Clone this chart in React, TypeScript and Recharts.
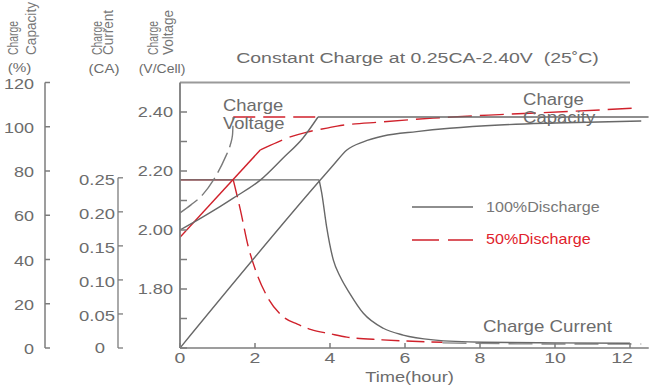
import React from 'react';
import { ComposedChart, Line, XAxis, YAxis, ReferenceLine } from 'recharts';

// ---------- layout / style constants ----------
const W = 651;
const H = 392;
const MARGIN = { top: 82.5, right: 2.25, bottom: 14, left: 0 };
const XAXIS_H = 30;
const PLOT_BOTTOM = H - MARGIN.bottom - XAXIS_H;
const CAP_W = 45;
const CUR_W = 73;
const VOLT_W = 62;
const CAP_GAP = 11;
const CUR_GAP = 3;
const VOLT_GAP = 7;

// axis ids (ordered: first id sits next to the plot)
const VOLT_ID = 'a-volt';
const CUR_ID = 'b-current';
const CAP_ID = 'c-capacity';

const FONT = '"Liberation Sans", Arial, Helvetica, sans-serif';
const GRAY = '#686868';
const RED = '#d0212b';
const AXIS = '#7c7c7c';
const LABEL = '#6c6c6c';
const LW = 1.4;

// ---------- axis values ----------
const timeTicks = [0, 2, 4, 6, 8, 10, 12];
const capacityTicks = [0, 20, 40, 60, 80, 100, 120];
const currentTicks = [0, 0.05, 0.1, 0.15, 0.2, 0.25];
const voltageTicks = [1.6, 1.7, 1.8, 1.9, 2.0, 2.1, 2.2, 2.3, 2.4];
const voltageLabels = [1.8, 2.0, 2.2, 2.4];

const timeDomain = [0, 12.5];
const capacityDomain = [0, 120];
const currentDomain = [0, 0.39];
const voltageDomain = [1.6, 2.5];
const frameTop = 2.5;
const frameEnd = 12;

// ---------- series (time in hours) ----------
// 100% discharge - charge voltage (V/cell)
const volt100RiseT = [0, 0.5, 1.0, 1.42, 2.14, 2.75, 3.28, 3.68];
const volt100RiseV = [2.0, 2.036, 2.074, 2.108, 2.169, 2.244, 2.312, 2.383];
const volt100HoldT = [3.68, 12.5];
const volt100HoldV = [2.383, 2.383];

// 50% discharge - charge voltage
const volt50RiseT = [0, 0.3, 0.6, 0.89, 1.21, 1.34, 1.4, 1.42];
const volt50RiseV = [2.058, 2.086, 2.119, 2.169, 2.247, 2.288, 2.322, 2.383];
const volt50HoldT = [1.42, 3.68];
const volt50HoldV = [2.383, 2.383];

// 100% discharge - charge capacity (%)
const cap100T = [0, 3.74, 4.09, 4.45, 4.89, 5.42, 6.31, 7.19, 8.52, 10.0, 12.3];
const cap100V = [0, 75.9, 82.7, 89.5, 93.2, 95.8, 97.8, 99.3, 100.8, 101.7, 102.6];

// 50% discharge - charge capacity (%)
const cap50LinT = [0, 2.14];
const cap50LinV = [50, 89.5];
const cap50CurveT = [2.14, 2.33, 2.94, 3.39, 3.92, 4.19, 5.42, 6.75, 8.52, 10.5, 12.2];
const cap50CurveV = [89.5, 91.0, 95.4, 97.6, 99.4, 100.3, 102.2, 103.9, 105.5, 107.0, 108.5];

// 100% discharge - charge current (CA)
const cur100HoldT = [0, 3.71];
const cur100HoldV = [0.247, 0.247];
const cur100DecayT = [3.71, 3.78, 3.91, 4.09, 4.27, 4.53, 4.89, 5.42, 5.95, 6.75, 8.08, 10.0, 12.0];
const cur100DecayV = [0.247, 0.2275, 0.178, 0.129, 0.105, 0.08, 0.051, 0.029, 0.019, 0.012, 0.0084, 0.0075, 0.007];

// 50% discharge - charge current (CA)
const cur50HoldT = [0, 1.42];
const cur50HoldV = [0.247, 0.247];
const cur50DecayT = [1.42, 1.61, 1.82, 2.01, 2.33, 2.75, 3.13, 3.5, 4.0, 4.45, 5.4, 7.0];
const cur50DecayV = [0.247, 0.203, 0.149, 0.115, 0.075, 0.046, 0.035, 0.027, 0.021, 0.016, 0.012, 0.0084];
const cur50TailT = [7.0, 9.0, 12.3];
const cur50TailV = [0.0075, 0.006, 0.0059];

const pts = (ts: number[], vs: number[]) => ts.map((t, i) => ({ t, v: vs[i] }));

// ---------- text helper (horizontally stretched like the source) ----------
function SText(props: any) {
  const { x, y, sx = 1.25, size = 15, anchor = 'start', fill = LABEL, rotate = false, len, children } = props;
  const tr = `translate(${x},${y}) scale(${sx},1)` + (rotate ? ' rotate(-90)' : '');
  return (
    <text
      transform={tr}
      x={0}
      y={0}
      textAnchor={anchor}
      fontSize={size}
      fontFamily={FONT}
      fill={fill}
      textLength={len}
      lengthAdjust={len ? 'spacingAndGlyphs' : undefined}
      style={{ whiteSpace: 'pre' }}
    >
      {children}
    </text>
  );
}

// ---------- custom ticks ----------
const CapTick = (p: any) => {
  const ax = p.x + CAP_GAP;
  return (
    <g>
      <line x1={ax} x2={ax + 5} y1={p.y} y2={p.y} stroke={AXIS} strokeWidth={1.5} />
      <SText x={p.x} y={p.y + 6} anchor="end" sx={1.2} size={15}>{String(p.payload.value)}</SText>
    </g>
  );
};

const CurTick = (p: any) => {
  const ax = p.x + CUR_GAP;
  const v = p.payload.value;
  const top = Math.abs(v - currentTicks[currentTicks.length - 1]) < 1e-9;
  const label = v === 0 ? '0' : v.toFixed(2);
  return (
    <g>
      {top && <line x1={ax} x2={ax} y1={p.y} y2={PLOT_BOTTOM} stroke={AXIS} strokeWidth={1.3} />}
      <line x1={ax} x2={ax + 5} y1={p.y} y2={p.y} stroke={AXIS} strokeWidth={1.3} />
      {v === 0 ? (
        <SText x={ax - 18} y={p.y + 5} anchor="middle" sx={1.23} size={15}>{label}</SText>
      ) : (
        <SText x={p.x} y={p.y + 7} anchor="end" sx={1.23} size={15}>{label}</SText>
      )}
    </g>
  );
};

const VoltTick = (p: any) => {
  const ax = p.x + VOLT_GAP;
  const v = p.payload.value;
  const showLabel = voltageLabels.some((l) => Math.abs(l - v) < 1e-6);
  return (
    <g>
      <line x1={ax} x2={ax + 7} y1={p.y} y2={p.y} stroke={AXIS} strokeWidth={1.5} />
      {showLabel && (
        <SText x={p.x} y={p.y + 5} anchor="end" sx={1.25} size={14.5}>{v.toFixed(2)}</SText>
      )}
    </g>
  );
};

const XTick = (p: any) => {
  const v = p.payload.value;
  const shift = v === timeTicks[timeTicks.length - 1] ? -8 : 0;
  return (
    <g>
      <line x1={p.x} x2={p.x} y1={p.y} y2={p.y - 5} stroke={AXIS} strokeWidth={1.5} />
      <SText x={p.x + shift} y={p.y + 15} anchor="middle" sx={1.3} size={15}>{String(v)}</SText>
    </g>
  );
};

// ---------- overlay texts & legend ----------
function Overlay() {
  return (
    <svg width={W} height={H} style={{ position: 'absolute', left: 0, top: 0, pointerEvents: 'none' }}>
      <SText x={417.5} y={63} anchor="middle" sx={1.3} size={15}>{'Constant Charge at 0.25CA-2.40V  (25\u02DAC)'}</SText>

      <SText x={18} y={55} rotate sx={1.2} size={11.5} len={34} fill="#777">Charge</SText>
      <SText x={36} y={55} rotate sx={1.2} size={11.5} len={53} fill="#777">Capacity</SText>
      <SText x={101.5} y={55} rotate sx={1.2} size={11.5} len={34} fill="#777">Charge</SText>
      <SText x={113} y={55} rotate sx={1.2} size={11.5} len={45} fill="#777">Current</SText>
      <SText x={158} y={55} rotate sx={1.2} size={11.5} len={34} fill="#777">Charge</SText>
      <SText x={172.5} y={55} rotate sx={1.2} size={11.5} len={45} fill="#777">Voltage</SText>

      <SText x={19.5} y={72} anchor="middle" sx={1.22} size={12.5}>(%)</SText>
      <SText x={104} y={72.5} anchor="middle" sx={1.2} size={12.5}>(CA)</SText>
      <SText x={162} y={72.5} anchor="middle" sx={1.12} size={12.5}>(V/Cell)</SText>

      <SText x={223} y={111} sx={1.15} size={16}>Charge</SText>
      <SText x={223} y={129} sx={1.15} size={16}>Voltage</SText>
      <SText x={523} y={105} sx={1.16} size={16}>Charge</SText>
      <SText x={523} y={123} sx={1.16} size={16}>Capacity</SText>
      <SText x={483} y={332} sx={1.17} size={16}>Charge Current</SText>

      <SText x={409.5} y={382} anchor="middle" sx={1.22} size={15}>Time(hour)</SText>

      <line x1={412} x2={473} y1={207} y2={207} stroke={GRAY} strokeWidth={1.6} />
      <SText x={486} y={212} sx={1.15} size={14} fill="#777">100%Discharge</SText>
      <line x1={412} x2={473} y1={240} y2={240} stroke={RED} strokeWidth={1.6} strokeDasharray="27 9" />
      <SText x={486} y={244} sx={1.15} size={14} fill="#e0222c">50%Discharge</SText>
    </svg>
  );
}

export default function App() {
  const common = { dataKey: 'v', dot: false, activeDot: false, isAnimationActive: false, strokeWidth: LW } as any;
  return (
    <div style={{ position: 'absolute', left: 0, top: 0, width: W, height: H, background: '#fff' }}>
      <ComposedChart width={W} height={H} margin={MARGIN}>
        <XAxis
          type="number"
          dataKey="t"
          domain={timeDomain}
          ticks={timeTicks}
          interval={0}
          height={XAXIS_H}
          tickSize={0}
          tickMargin={0}
          tickLine={false}
          tick={XTick}
          axisLine={{ stroke: AXIS, strokeWidth: 1.5 }}
          allowDataOverflow
        />
        <YAxis
          yAxisId={VOLT_ID}
          type="number"
          domain={voltageDomain}
          ticks={voltageTicks}
          interval={0}
          width={VOLT_W}
          tickSize={0}
          tickMargin={VOLT_GAP}
          tickLine={false}
          tick={VoltTick}
          axisLine={{ stroke: AXIS, strokeWidth: 1.8 }}
          allowDataOverflow
        />
        <YAxis
          yAxisId={CUR_ID}
          type="number"
          domain={currentDomain}
          ticks={currentTicks}
          interval={0}
          width={CUR_W}
          tickSize={0}
          tickMargin={CUR_GAP}
          tickLine={false}
          tick={CurTick}
          axisLine={false}
          allowDataOverflow
        />
        <YAxis
          yAxisId={CAP_ID}
          type="number"
          domain={capacityDomain}
          ticks={capacityTicks}
          interval={0}
          width={CAP_W}
          tickSize={0}
          tickMargin={CAP_GAP}
          tickLine={false}
          tick={CapTick}
          axisLine={{ stroke: AXIS, strokeWidth: 1.5 }}
          allowDataOverflow
        />

        <ReferenceLine
          yAxisId={VOLT_ID}
          segment={[{ x: 0, y: frameTop }, { x: frameEnd, y: frameTop }]}
          stroke="#9a9a9a"
          strokeWidth={2}
        />

        {/* currents */}
        <Line {...common} yAxisId={CUR_ID} type="linear" data={pts(cur50HoldT, cur50HoldV)} stroke={RED} />
        <Line {...common} yAxisId={CUR_ID} type="monotone" data={pts(cur50DecayT, cur50DecayV)} stroke={RED} strokeDasharray="18 7" />
        <Line {...common} yAxisId={CUR_ID} type="linear" data={pts(cur50TailT, cur50TailV)} stroke="#8a8a8a" strokeDasharray="24 9" />
        <Line {...common} yAxisId={CUR_ID} type="linear" data={pts(cur100HoldT, cur100HoldV)} stroke={GRAY} />
        <Line {...common} yAxisId={CUR_ID} type="monotone" data={pts(cur100DecayT, cur100DecayV)} stroke={GRAY} />

        {/* capacities */}
        <Line {...common} yAxisId={CAP_ID} type="linear" data={pts(cap50LinT, cap50LinV)} stroke={RED} />
        <Line {...common} yAxisId={CAP_ID} type="monotone" data={pts(cap50CurveT, cap50CurveV)} stroke={RED} strokeDasharray="24 8" />
        <Line {...common} yAxisId={CAP_ID} type="monotone" data={pts(cap100T, cap100V)} stroke={GRAY} />

        {/* voltages */}
        <Line {...common} yAxisId={VOLT_ID} type="monotone" data={pts(volt50RiseT, volt50RiseV)} stroke="#7a7a7a" strokeDasharray="22 6" />
        <Line {...common} yAxisId={VOLT_ID} type="linear" data={pts(volt50HoldT, volt50HoldV)} stroke={RED} strokeDasharray="22 8" />
        <Line {...common} yAxisId={VOLT_ID} type="monotone" data={pts(volt100RiseT, volt100RiseV)} stroke={GRAY} />
        <Line {...common} yAxisId={VOLT_ID} type="linear" data={pts(volt100HoldT, volt100HoldV)} stroke={GRAY} />
      </ComposedChart>
      <Overlay />
    </div>
  );
}
